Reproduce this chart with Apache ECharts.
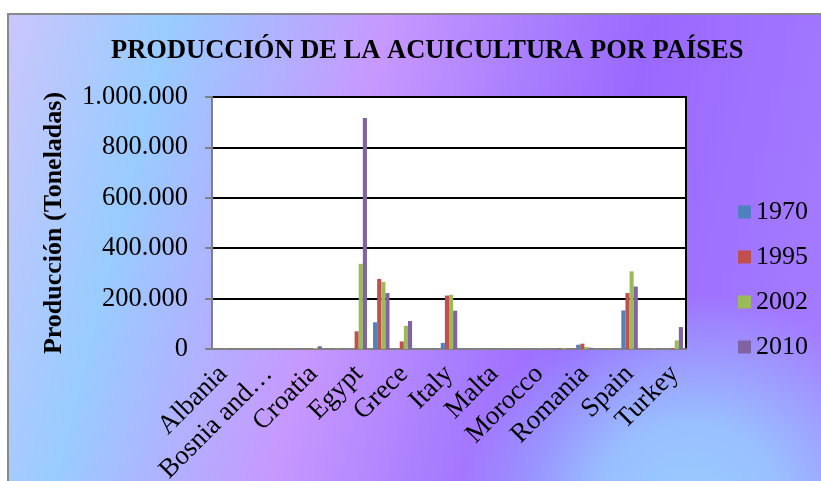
<!DOCTYPE html>
<html>
<head>
<meta charset="utf-8">
<script src="https://cdn.jsdelivr.net/npm/echarts@6/dist/echarts.min.js"></script>
<style>
  html, body { margin: 0; padding: 0; background: #fff; }
  #wrap { position: relative; width: 821px; height: 481px; overflow: hidden; }
  #panel {
    position: absolute; left: 7px; top: 13px; width: 830px; height: 480px;
    border-left: 2px solid #8a8a8a; border-top: 2px solid #8a8a8a;
    background:
      radial-gradient(ellipse 230px 210px at 680px 490px, rgba(152,204,255,1) 0%, rgba(152,204,255,0.85) 40%, rgba(152,204,255,0) 100%),
      linear-gradient(104deg, #cac6fc 0%, #99ccff 17%, #c798fe 40%, #a97efe 56%, #9a68ff 68%, #a176ff 85%, #a67fff 100%);
  }
  #chart { position: absolute; left: 0; top: 0; width: 821px; height: 481px; }
</style>
</head>
<body>
<div id="wrap">
  <div id="panel"></div>
  <div id="chart"></div>
</div>
<script>
// Countries on the category axis (every other name is shown)
const countries = ['Albania', 'Algeria', 'Bosnia and…', 'Bulgaria', 'Croatia', 'Cyprus', 'Egypt',
  'France', 'Grece', 'Israel', 'Italy', 'Lebanon', 'Malta', 'Montenegro', 'Morocco',
  'Portugal', 'Romania', 'Slovenia', 'Spain', 'Tunisia', 'Turkey'];

const years = ['1970', '1995', '2002', '2010'];

// Aquaculture production in tonnes
const prod1970 = [0, 0, 0, 1500, 0, 0, 0, 106000, 0, 0, 24000, 0, 0, 0, 0, 0, 17000, 0, 153000, 0, 0];
const prod1995 = [200, 300, 0, 2000, 1000, 500, 70000, 278000, 30000, 500, 212000, 0, 500, 0, 500, 3000, 21000, 500, 222000, 300, 4000];
const prod2002 = [1000, 500, 0, 500, 4000, 1500, 338000, 266000, 92000, 500, 215000, 0, 800, 0, 1000, 3000, 8000, 1000, 308000, 1000, 34000];
const prod2010 = [1500, 500, 2500, 2500, 11000, 2000, 917000, 222000, 111000, 1000, 152000, 0, 1000, 0, 500, 1000, 5000, 1000, 248000, 2000, 87000];

const yMax = 1000000;
const yStep = 200000;

const colors = ['#4f81bd', '#c0504d', '#9bbb59', '#8064a2'];
const serif = "'Liberation Serif', 'Times New Roman', serif";

function dotThousands(v) {
  return String(v).replace(/\B(?=(\d{3})+(?!\d))/g, '.');
}

const chart = echarts.init(document.getElementById('chart'), null, { renderer: 'canvas' });

const seriesData = [prod1970, prod1995, prod2002, prod2010];

chart.setOption({
  backgroundColor: 'transparent',
  animation: false,
  color: colors,
  title: {
    text: 'PRODUCCIÓN DE LA ACUICULTURA POR PAÍSES',
    left: 106,
    top: 33,
    textStyle: { fontFamily: serif, fontWeight: 'bold', fontSize: 26.5, color: '#000' }
  },
  legend: {
    orient: 'vertical',
    left: 733,
    top: 194,
    itemWidth: 13,
    itemHeight: 13,
    itemGap: 19,
    icon: 'rect',
    textStyle: { fontFamily: serif, fontSize: 26, color: '#000' },
    data: years
  },
  grid: {
    left: 212, top: 97, width: 474, height: 252,
    outerBoundsMode: 'none',
    containLabel: false,
    show: true, backgroundColor: '#fff', borderColor: '#000', borderWidth: 2
  },
  xAxis: {
    type: 'category',
    data: countries,
    axisLine: { lineStyle: { color: '#808080', width: 2 } },
    axisTick: { show: false },
    axisLabel: {
      interval: 1, rotate: 45, margin: 21,
      fontFamily: serif, fontSize: 27, color: '#000'
    }
  },
  yAxis: {
    type: 'value',
    min: 0, max: yMax, interval: yStep,
    name: 'Producción (Toneladas)',
    nameLocation: 'middle',
    nameGap: 145,
    nameTextStyle: { fontFamily: serif, fontWeight: 'bold', fontSize: 26, color: '#000' },
    axisLine: { show: true, lineStyle: { color: '#808080', width: 2 } },
    axisTick: { show: true, length: 7, lineStyle: { color: '#808080', width: 2 } },
    splitLine: { lineStyle: { color: '#000', width: 2 } },
    axisLabel: {
      margin: 24, fontFamily: serif, fontSize: 26.5, color: '#000',
      formatter: dotThousands
    }
  },
  series: years.map((y, i) => ({
    name: y,
    type: 'bar',
    data: seriesData[i],
    barGap: '0%',
    barCategoryGap: '27%',
    itemStyle: { color: colors[i] }
  }))
});
</script>
</body>
</html>
